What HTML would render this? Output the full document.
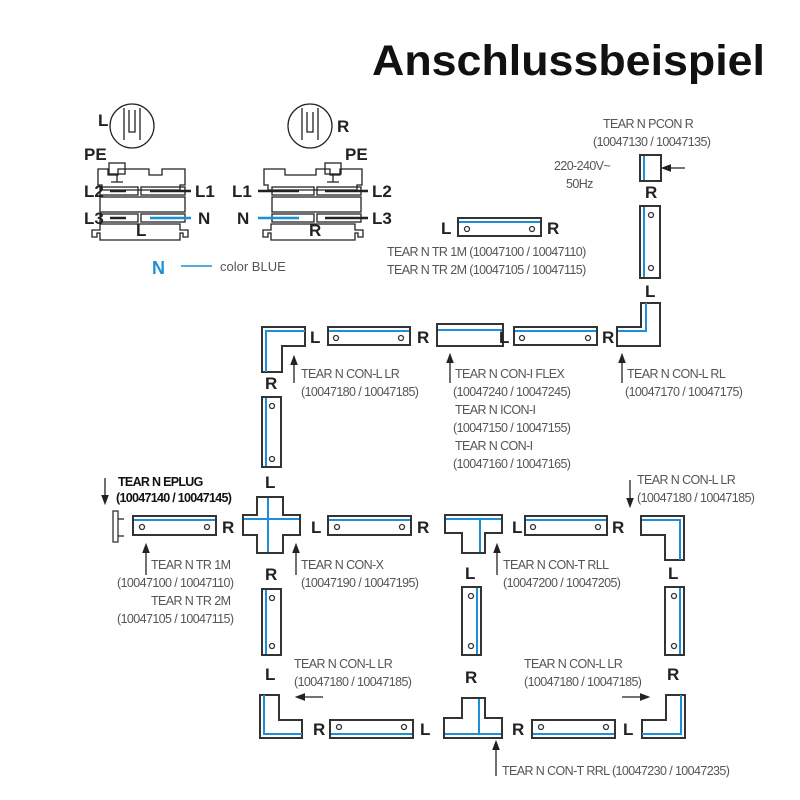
<!DOCTYPE html>
<html><head><meta charset="utf-8"><style>
html,body{margin:0;padding:0;background:#fff;}
svg{display:block}
.g{font-family:"Liberation Sans",sans-serif;font-size:12.5px;fill:#555;letter-spacing:-0.6px}
.b{font-family:"Liberation Sans",sans-serif;font-weight:bold;font-size:17px;fill:#222}
.s{stroke:#333;stroke-width:2;fill:#fff}
.bl{stroke:#1d8fd6;stroke-width:2;fill:none}
.c{stroke:#333;stroke-width:1.3;fill:#fff}
.k{stroke:#222;stroke-width:1.3;fill:none}
</style></head><body>
<svg width="800" height="800" viewBox="0 0 800 800" xmlns="http://www.w3.org/2000/svg">
<defs><marker id="a" markerWidth="8" markerHeight="8" refX="4" refY="4" orient="auto"><path d="M0,1 L8,4 L0,7 Z" fill="#222"/></marker></defs>
<text x="372" y="75" font-family="Liberation Sans,sans-serif" font-weight="bold" font-size="43" fill="#111" textLength="393" lengthAdjust="spacingAndGlyphs">Anschlussbeispiel</text>

<!-- Left connector diagram -->
<g>
<circle cx="132" cy="126" r="22" class="k"/>
<path d="M124,108 V140 M140,108 V140 M129,110 V132 H135 V110" class="k"/>
<text x="98" y="126" class="b" font-size="15">L</text>
<text x="84" y="160" class="b" font-size="14">PE</text>
<path d="M98,169 H108 V175 H118 V169 H149 V175 H162 V169 H185 V185 H180 V190 H102 V185 H98 Z" class="k"/>
<rect x="109" y="163" width="16" height="11" class="k"/><path d="M117,174 V182 M111,182 H123" class="k"/>
<rect x="100" y="187" width="38" height="8" class="k"/><rect x="141" y="187" width="44" height="8" class="k"/>
<path d="M110,191 H126 M150,191 H191" stroke="#222" stroke-width="2.5"/>
<rect x="100" y="197" width="85" height="15" class="k"/>
<rect x="100" y="214" width="38" height="8" class="k"/><rect x="141" y="214" width="44" height="8" class="k"/>
<path d="M110,218 H126" stroke="#222" stroke-width="2.5"/><path d="M150,218 H191" stroke="#1d8fd6" stroke-width="2.5"/>
<path d="M92,237 V230 H100 V224 H180 V230 H188 V237 H183 V233 H180 V240 H100 V233 H97 V237 Z" class="k"/>
<text x="84" y="197" class="b" font-size="14">L2</text><text x="195" y="197" class="b" font-size="14">L1</text>
<text x="84" y="224" class="b" font-size="14">L3</text><text x="198" y="224" class="b" font-size="14" fill="#1d8fd6">N</text>
<text x="136" y="236" class="b" font-size="13">L</text>
</g>
<g>
<circle cx="310" cy="126" r="22" class="k"/>
<path d="M302,108 V140 M318,108 V140 M307,112 V132 H313 V112" class="k"/>
<text x="337" y="132" class="b" font-size="15">R</text>
<text x="345" y="160" class="b" font-size="14">PE</text>
<path d="M264,169 H285 V175 H316 V169 H330 V175 H340 V169 H362 V185 H357 V190 H268 V185 H264 Z" class="k"/>
<rect x="325" y="163" width="16" height="11" class="k"/><path d="M333,174 V182 M327,182 H339" class="k"/>
<rect x="272" y="187" width="42" height="8" class="k"/><rect x="317" y="187" width="44" height="8" class="k"/>
<path d="M258,191 H299 M325,191 H368" stroke="#222" stroke-width="2.5"/>
<rect x="272" y="197" width="89" height="15" class="k"/>
<rect x="272" y="214" width="42" height="8" class="k"/><rect x="317" y="214" width="44" height="8" class="k"/>
<path d="M258,218 H299" stroke="#1d8fd6" stroke-width="2.5"/><path d="M325,218 H368" stroke="#222" stroke-width="2.5"/>
<path d="M263,237 V230 H271 V224 H355 V230 H363 V237 H358 V233 H355 V240 H271 V233 H268 V237 Z" class="k"/>
<text x="232" y="197" class="b" font-size="14">L1</text><text x="372" y="197" class="b" font-size="14">L2</text>
<text x="237" y="224" class="b" font-size="14" fill="#1d8fd6">N</text><text x="372" y="224" class="b" font-size="14">L3</text>
<text x="309" y="236" class="b" font-size="13">R</text>
</g>
<text x="152" y="274" font-family="Liberation Sans,sans-serif" font-weight="bold" font-size="18" fill="#1d8fd6">N</text>
<path d="M181,266 H212" stroke="#1d8fd6" stroke-width="1.5"/>
<text x="220" y="271" font-family="Liberation Sans,sans-serif" font-size="13" fill="#555">color BLUE</text>

<!-- PCON -->
<text x="603" y="128" class="g">TEAR N PCON R</text>
<text x="593" y="146" class="g">(10047130 / 10047135)</text>
<text x="554" y="170" class="g">220-240V~</text>
<text x="566" y="188" class="g">50Hz</text>
<rect x="640" y="155" width="21" height="26" class="s"/><path d="M644,156 V180" class="bl"/>
<path d="M685,168 H666" class="k" marker-end="url(#a)"/>
<text x="645" y="198" class="b">R</text>
<rect x="640" y="206" width="20" height="72" class="s"/><path d="M644,207 V277" class="bl"/>
<circle cx="651" cy="215" r="2.5" class="c"/><circle cx="651" cy="268" r="2.5" class="c"/>
<text x="645" y="297" class="b">L</text>
<text x="441" y="234" class="b">L</text>
<rect x="458" y="218" width="83" height="18" class="s"/><path d="M459,222 H540" class="bl"/>
<circle cx="467" cy="229" r="2.5" class="c"/><circle cx="532" cy="229" r="2.5" class="c"/>
<text x="547" y="234" class="b">R</text>
<text x="387" y="256" class="g">TEAR N TR 1M (10047100 / 10047110)</text>
<text x="387" y="274" class="g">TEAR N TR 2M (10047105 / 10047115)</text>

<!-- top row -->
<path d="M262,327 H305 V346 H282 V372 H262 Z" class="s"/><path d="M266,372 V331 H305" class="bl"/>
<text x="310" y="343" class="b">L</text>
<rect x="328" y="327" width="82" height="18" class="s"/><path d="M329,331 H409" class="bl"/>
<circle cx="336" cy="338" r="2.5" class="c"/><circle cx="401" cy="338" r="2.5" class="c"/>
<text x="417" y="343" class="b">R</text>
<rect x="437" y="324" width="66" height="22" class="s"/><path d="M438,330 H502" class="bl"/>
<text x="499" y="343" class="b">L</text>
<rect x="514" y="327" width="83" height="18" class="s"/><path d="M515,331 H596" class="bl"/>
<circle cx="522" cy="338" r="2.5" class="c"/><circle cx="588" cy="338" r="2.5" class="c"/>
<text x="602" y="343" class="b">R</text>
<path d="M641,303 H660 V346 H617 V327 H641 Z" class="s"/><path d="M646,303 V331 H618" class="bl"/>
<text x="265" y="389" class="b">R</text>
<path d="M294,383 V360" class="k" marker-end="url(#a)"/>
<text x="301" y="378" class="g">TEAR N CON-L LR</text>
<text x="301" y="396" class="g">(10047180 / 10047185)</text>
<path d="M450,383 V358" class="k" marker-end="url(#a)"/>
<text x="455" y="378" class="g">TEAR N CON-I FLEX</text>
<text x="453" y="396" class="g">(10047240 / 10047245)</text>
<text x="455" y="414" class="g">TEAR N ICON-I</text>
<text x="453" y="432" class="g">(10047150 / 10047155)</text>
<text x="455" y="450" class="g">TEAR N CON-I</text>
<text x="453" y="468" class="g">(10047160 / 10047165)</text>
<path d="M622,383 V358" class="k" marker-end="url(#a)"/>
<text x="627" y="378" class="g">TEAR N CON-L RL</text>
<text x="625" y="396" class="g">(10047170 / 10047175)</text>

<rect x="262" y="397" width="19" height="70" class="s"/><path d="M266,398 V466" class="bl"/>
<circle cx="272" cy="406" r="2.5" class="c"/><circle cx="272" cy="459" r="2.5" class="c"/>
<text x="265" y="488" class="b">L</text>

<!-- middle row -->
<path d="M105,478 V500" class="k" marker-end="url(#a)"/>
<text x="118" y="486" font-family="Liberation Sans,sans-serif" font-weight="bold" font-size="12.5" fill="#111" letter-spacing="-0.7">TEAR N EPLUG</text>
<text x="116" y="502" font-family="Liberation Sans,sans-serif" font-weight="bold" font-size="12.5" fill="#111" letter-spacing="-0.7">(10047140 / 10047145)</text>
<rect x="113" y="511" width="5" height="31" class="c"/><path d="M118,519 H124 M118,536 H124" class="k"/>
<rect x="133" y="516" width="83" height="19" class="s"/><path d="M134,520 H215" class="bl"/>
<circle cx="142" cy="527" r="2.5" class="c"/><circle cx="207" cy="527" r="2.5" class="c"/>
<text x="222" y="533" class="b">R</text>
<path d="M257,497 H283 V515 H300 V535 H283 V553 H257 V535 H243 V515 H257 Z" class="s"/>
<path d="M244,519 H299 M268,498 V552" class="bl"/>
<text x="311" y="533" class="b">L</text>
<rect x="328" y="516" width="83" height="19" class="s"/><path d="M329,520 H410" class="bl"/>
<circle cx="337" cy="527" r="2.5" class="c"/><circle cx="402" cy="527" r="2.5" class="c"/>
<text x="417" y="533" class="b">R</text>
<path d="M445,515 H502 V533 H485 V553 H462 V533 H445 Z" class="s"/>
<path d="M446,519 H501 M480,519 V552" class="bl"/>
<text x="512" y="533" class="b">L</text>
<rect x="525" y="516" width="82" height="19" class="s"/><path d="M526,520 H606" class="bl"/>
<circle cx="533" cy="527" r="2.5" class="c"/><circle cx="598" cy="527" r="2.5" class="c"/>
<text x="612" y="533" class="b">R</text>
<path d="M641,516 H684 V560 H665 V535 H641 Z" class="s"/><path d="M642,520 H680 V560" class="bl"/>
<path d="M630,480 V503" class="k" marker-end="url(#a)"/>
<text x="637" y="484" class="g">TEAR N CON-L LR</text>
<text x="637" y="502" class="g">(10047180 / 10047185)</text>
<path d="M146,575 V548" class="k" marker-end="url(#a)"/>
<text x="151" y="569" class="g">TEAR N TR 1M</text>
<text x="117" y="587" class="g">(10047100 / 10047110)</text>
<text x="151" y="605" class="g">TEAR N TR 2M</text>
<text x="117" y="623" class="g">(10047105 / 10047115)</text>
<path d="M296,575 V548" class="k" marker-end="url(#a)"/>
<text x="301" y="569" class="g">TEAR N CON-X</text>
<text x="301" y="587" class="g">(10047190 / 10047195)</text>
<path d="M497,575 V548" class="k" marker-end="url(#a)"/>
<text x="503" y="569" class="g">TEAR N CON-T RLL</text>
<text x="503" y="587" class="g">(10047200 / 10047205)</text>
<text x="265" y="580" class="b">R</text>
<text x="465" y="579" class="b">L</text>
<text x="668" y="579" class="b">L</text>

<rect x="262" y="589" width="19" height="66" class="s"/><path d="M266,590 V654" class="bl"/>
<circle cx="272" cy="598" r="2.5" class="c"/><circle cx="272" cy="646" r="2.5" class="c"/>
<rect x="462" y="587" width="19" height="68" class="s"/><path d="M477,588 V654" class="bl"/>
<circle cx="471" cy="596" r="2.5" class="c"/><circle cx="471" cy="646" r="2.5" class="c"/>
<rect x="665" y="587" width="19" height="68" class="s"/><path d="M680,588 V654" class="bl"/>
<circle cx="674" cy="596" r="2.5" class="c"/><circle cx="674" cy="646" r="2.5" class="c"/>
<text x="265" y="680" class="b">L</text>
<text x="465" y="683" class="b">R</text>
<text x="667" y="680" class="b">R</text>
<text x="294" y="668" class="g">TEAR N CON-L LR</text>
<text x="294" y="686" class="g">(10047180 / 10047185)</text>
<path d="M323,697 H300" class="k" marker-end="url(#a)"/>
<text x="524" y="668" class="g">TEAR N CON-L LR</text>
<text x="524" y="686" class="g">(10047180 / 10047185)</text>
<path d="M622,697 H645" class="k" marker-end="url(#a)"/>

<!-- bottom row -->
<path d="M260,695 H279 V720 H302 V738 H260 Z" class="s"/><path d="M264,695 V734 H302" class="bl"/>
<text x="313" y="735" class="b">R</text>
<rect x="330" y="720" width="83" height="18" class="s"/><path d="M331,734 H412" class="bl"/>
<circle cx="339" cy="727" r="2.5" class="c"/><circle cx="404" cy="727" r="2.5" class="c"/>
<text x="420" y="735" class="b">L</text>
<path d="M444,738 V718 H462 V698 H485 V718 H502 V738 Z" class="s"/><path d="M445,734 H501 M479,699 V734" class="bl"/>
<text x="512" y="735" class="b">R</text>
<rect x="532" y="720" width="83" height="18" class="s"/><path d="M533,734 H614" class="bl"/>
<circle cx="541" cy="727" r="2.5" class="c"/><circle cx="606" cy="727" r="2.5" class="c"/>
<text x="623" y="735" class="b">L</text>
<path d="M642,720 H666 V695 H685 V738 H642 Z" class="s"/><path d="M642,734 H681 V695" class="bl"/>
<path d="M496,776 V745" class="k" marker-end="url(#a)"/>
<text x="502" y="775" class="g">TEAR N CON-T RRL (10047230 / 10047235)</text>
</svg>
</body></html>
